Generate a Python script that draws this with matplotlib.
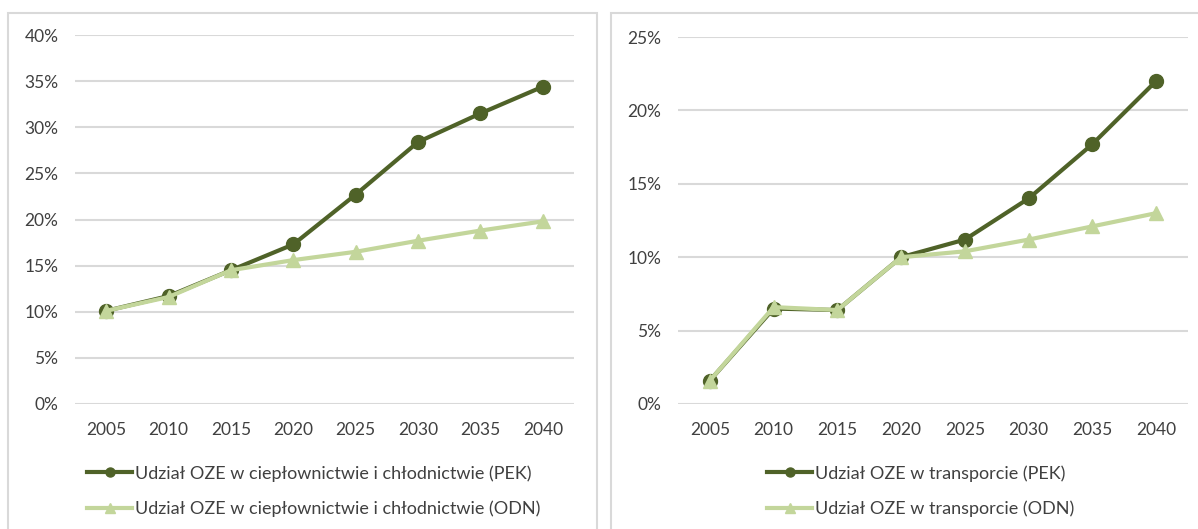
import matplotlib
matplotlib.use('Agg')
from matplotlib import pyplot as plt
from matplotlib.patches import Rectangle
from matplotlib.ticker import FuncFormatter

years = [2005, 2010, 2015, 2020, 2025, 2030, 2035, 2040]

heat_pek = [10.1, 11.7, 14.5, 17.3, 22.7, 28.4, 31.5, 34.4]
heat_odn = [10.1, 11.6, 14.5, 15.6, 16.5, 17.7, 18.8, 19.8]

trans_pek = [1.6, 6.5, 6.4, 10.0, 11.2, 14.0, 17.7, 22.0]
trans_odn = [1.6, 6.6, 6.4, 10.0, 10.4, 11.2, 12.1, 13.0]

heat_labels = ['Udział OZE w ciepłownictwie i chłodnictwie (PEK)',
               'Udział OZE w ciepłownictwie i chłodnictwie (ODN)']
trans_labels = ['Udział OZE w transporcie (PEK)',
                'Udział OZE w transporcie (ODN)']

DARK = '#4f6228'
LIGHT = '#c3d69b'
GRID = '#d9d9d9'
TEXT = '#404040'

plt.rcParams['font.family'] = ['Lato', 'DejaVu Sans']
plt.rcParams['font.size'] = 12

W, H = 1198, 529
fig = plt.figure(figsize=(W / 100, H / 100), dpi=100)

# panel frames
for x0, x1 in [(8, 597), (611, 1210)]:
    fig.patches.append(Rectangle((x0 / W, -0.05), (x1 - x0) / W, 1 - 13 / H + 0.05,
                                 transform=fig.transFigure, fill=False,
                                 edgecolor=GRID, linewidth=1.5))


def panel(rect, pek, odn, labels, ymax, leg_x):
    ax = fig.add_axes(rect)
    ax.plot(years, pek, color=DARK, lw=3, marker='o', ms=10, label=labels[0], zorder=3)
    ax.plot(years, odn, color=LIGHT, lw=3, marker='^', ms=10, label=labels[1], zorder=4)
    ax.set_xlim(2002.5, 2042.5)
    ax.set_ylim(0, ymax)
    ax.set_xticks(years)
    ax.set_yticks(range(0, ymax + 1, 5))
    ax.yaxis.set_major_formatter(FuncFormatter(lambda v, p: '%d%%' % v))
    ax.grid(axis='y', color=GRID, lw=1.5)
    ax.set_axisbelow(True)
    for s in ax.spines.values():
        s.set_visible(False)
    ax.tick_params(length=0, colors=TEXT, labelsize=12.5)
    ax.tick_params(axis='y', pad=12)
    ax.tick_params(axis='x', pad=13)
    fig.legend(handles=ax.get_lines(), loc='upper left',
               bbox_to_anchor=(leg_x, 0.121), frameon=False, fontsize=13,
               labelcolor=TEXT, handlelength=2.5, handletextpad=0.15,
               labelspacing=1.05, borderaxespad=0, borderpad=0,
               markerscale=0.65)


panel([75 / W, 1 - 404 / H, 499 / W, 369 / H], heat_pek, heat_odn, heat_labels, 40, 87 / W)
panel([678 / W, 1 - 404 / H, 510 / W, 367 / H], trans_pek, trans_odn, trans_labels, 25, 767 / W)

fig.savefig('out.png', dpi=100)
